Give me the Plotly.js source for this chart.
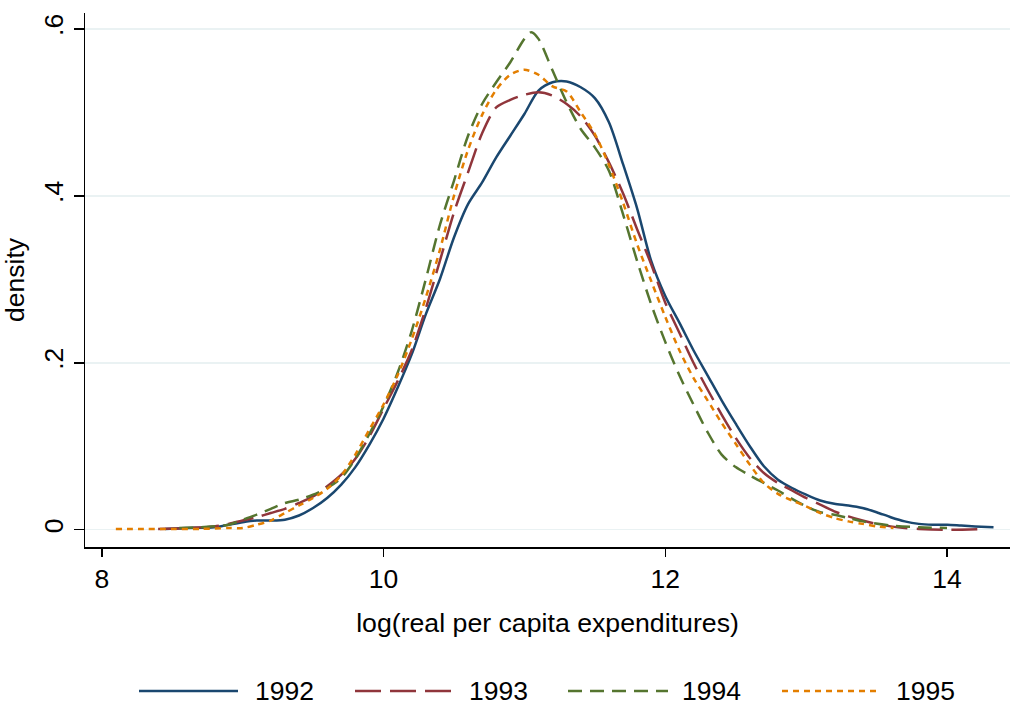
<!DOCTYPE html>
<html>
<head>
<meta charset="utf-8">
<script src="https://cdn.plot.ly/plotly-3.0.1.min.js"></script>
<style>html,body{margin:0;padding:0;background:#fff;}#chart{width:1029px;height:709px;}</style>
</head>
<body>
<div id="chart"></div>
<script>
// ---- data ----
var seriesNames = ["1992", "1993", "1994", "1995"];

var x1992 = [8.45,8.6,8.8,8.9,9.0,9.1,9.2,9.3,9.4,9.5,9.6,9.7,9.8,9.9,10.0,10.1,10.2,10.3,10.4,10.5,10.6,10.7,10.8,10.9,11.0,11.1,11.2,11.3,11.4,11.5,11.6,11.7,11.8,11.9,12.0,12.1,12.2,12.3,12.4,12.5,12.6,12.7,12.8,12.9,13.0,13.1,13.2,13.3,13.4,13.5,13.6,13.7,13.8,13.9,14.0,14.1,14.2,14.33];
var y1992 = [0.001,0.002,0.003,0.006,0.009,0.011,0.011,0.012,0.017,0.026,0.038,0.054,0.075,0.102,0.133,0.17,0.21,0.258,0.3,0.35,0.39,0.416,0.446,0.472,0.498,0.526,0.536,0.537,0.53,0.517,0.488,0.438,0.385,0.322,0.28,0.248,0.215,0.185,0.155,0.127,0.1,0.076,0.06,0.05,0.042,0.035,0.031,0.029,0.026,0.021,0.015,0.01,0.007,0.006,0.006,0.005,0.004,0.003];

var x1993 = [8.4,8.6,8.8,8.9,9.0,9.1,9.2,9.3,9.4,9.5,9.6,9.7,9.8,9.9,10.0,10.1,10.2,10.3,10.4,10.5,10.6,10.7,10.8,10.9,11.0,11.1,11.2,11.3,11.4,11.5,11.6,11.7,11.8,11.9,12.0,12.1,12.2,12.3,12.4,12.5,12.6,12.7,12.8,12.9,13.0,13.1,13.2,13.3,13.4,13.5,13.6,13.7,13.8,14.0,14.28];
var y1993 = [0.001,0.002,0.004,0.007,0.011,0.015,0.02,0.025,0.032,0.04,0.052,0.066,0.085,0.112,0.145,0.178,0.215,0.265,0.322,0.38,0.428,0.475,0.506,0.515,0.521,0.524,0.52,0.51,0.495,0.472,0.44,0.403,0.36,0.318,0.272,0.236,0.2,0.168,0.138,0.11,0.086,0.068,0.056,0.047,0.038,0.03,0.022,0.016,0.011,0.007,0.004,0.002,0.001,0.0,0.001];

var x1994 = [8.55,8.7,8.9,9.0,9.1,9.2,9.3,9.4,9.5,9.6,9.7,9.8,9.9,10.0,10.1,10.2,10.3,10.4,10.5,10.6,10.7,10.8,10.9,11.0,11.05,11.1,11.2,11.3,11.4,11.5,11.6,11.7,11.8,11.9,12.0,12.1,12.2,12.3,12.4,12.5,12.6,12.7,12.8,12.9,13.0,13.1,13.2,13.3,13.4,13.6,13.8,14.0];
var y1994 = [0.002,0.003,0.006,0.012,0.018,0.025,0.032,0.036,0.042,0.05,0.062,0.085,0.115,0.148,0.188,0.238,0.3,0.365,0.418,0.472,0.51,0.536,0.56,0.588,0.596,0.588,0.55,0.512,0.48,0.458,0.43,0.378,0.322,0.27,0.225,0.185,0.15,0.117,0.09,0.075,0.065,0.056,0.047,0.037,0.028,0.021,0.018,0.014,0.01,0.005,0.003,0.002];

var x1995 = [8.1,8.3,8.5,8.7,8.9,9.0,9.1,9.2,9.3,9.4,9.5,9.6,9.7,9.8,9.9,10.0,10.1,10.2,10.3,10.4,10.5,10.6,10.7,10.8,10.9,11.0,11.1,11.2,11.3,11.4,11.5,11.6,11.7,11.8,11.9,12.0,12.1,12.2,12.3,12.4,12.5,12.6,12.7,12.8,12.9,13.0,13.1,13.2,13.3,13.4,13.5,13.62];
var y1995 = [0.001,0.001,0.001,0.001,0.002,0.002,0.006,0.011,0.02,0.029,0.038,0.049,0.065,0.09,0.12,0.15,0.185,0.228,0.278,0.335,0.4,0.455,0.497,0.527,0.545,0.551,0.545,0.531,0.525,0.5,0.474,0.437,0.392,0.342,0.298,0.255,0.215,0.182,0.155,0.128,0.103,0.078,0.056,0.043,0.035,0.028,0.02,0.014,0.01,0.007,0.004,0.002];

var yTickVals = [0, 0.2, 0.4, 0.6];
var yTickText = ["0", ".2", ".4", ".6"];
var xTickVals = [8, 10, 12, 14];

// ---- styles ----
var colors = ["#1a476f", "#90353b", "#55752f", "#e37e00"];
var dashes = ["solid", "26px,9px", "14px,8px", "6px,5px"];
var xs = [x1992, x1993, x1994, x1995];
var ys = [y1992, y1993, y1994, y1995];
var FONT = "Liberation Sans, Arial, Helvetica, sans-serif";

var traces = seriesNames.map(function (n, i) {
  return {
    type: "scatter", mode: "lines", name: n,
    x: xs[i], y: ys[i],
    line: {color: colors[i], width: 2.5, dash: dashes[i], shape: "spline", smoothing: 0.8},
    showlegend: false, hoverinfo: "skip"
  };
});

// custom legend (Stata style, long samples)
var L = 85, R = 19, T = 13, B = 162, W = 1029, H = 709;
var pw = W - L - R, ph = H - T - B;
function px2x(p) { return (p - L) / pw; }
function py2y(p) { return (H - B - p) / ph; }
var legLineStart = [139, 355, 568, 782];
var legLineEnd = [238, 455, 668, 880];
var legTextX = [253, 467, 680, 894];
var legY = 691;
var shapes = [], annotations = [];
seriesNames.forEach(function (n, i) {
  shapes.push({type: "line", xref: "paper", yref: "paper",
    x0: px2x(legLineStart[i]), x1: px2x(legLineEnd[i]), y0: py2y(legY), y1: py2y(legY),
    line: {color: colors[i], width: 2.5, dash: dashes[i]}});
  annotations.push({xref: "paper", yref: "paper", x: px2x(legTextX[i]), y: py2y(legY),
    xanchor: "left", yanchor: "middle", text: n, showarrow: false,
    font: {family: FONT, size: 26.5, color: "#000"}});
});

var layout = {
  width: W, height: H,
  margin: {l: L, r: R, t: T, b: B, pad: 0},
  paper_bgcolor: "#ffffff", plot_bgcolor: "#ffffff",
  font: {family: FONT, size: 26, color: "#000"},
  showlegend: false,
  xaxis: {
    range: [7.881, 14.447], tickvals: xTickVals, ticktext: xTickVals.map(String),
    ticks: "outside", ticklen: 8, tickwidth: 1.5, tickcolor: "#000",
    showline: true, linecolor: "#000", linewidth: 1.5, showgrid: false, zeroline: false,
    tickfont: {family: FONT, size: 26.5, color: "#000"},
    title: {text: "log(real per capita expenditures)", font: {family: FONT, size: 26.7, color: "#000"}, standoff: 20},
    automargin: false, fixedrange: true
  },
  yaxis: {
    range: [-0.0207, 0.619], tickvals: yTickVals, ticktext: yTickText, tickangle: -90,
    ticks: "outside", ticklen: 10, tickwidth: 1.5, tickcolor: "#000",
    showline: true, linecolor: "#000", linewidth: 1.5,
    showgrid: true, gridcolor: "#eaf2f3", gridwidth: 1.5, zeroline: false,
    tickfont: {family: FONT, size: 26.5, color: "#000"},
    title: {text: "density", font: {family: FONT, size: 26.5, color: "#000"}, standoff: 15},
    automargin: false, fixedrange: true
  },
  shapes: shapes,
  annotations: annotations
};

Plotly.newPlot("chart", traces, layout, {staticPlot: true, displayModeBar: false});
</script>
</body>
</html>
